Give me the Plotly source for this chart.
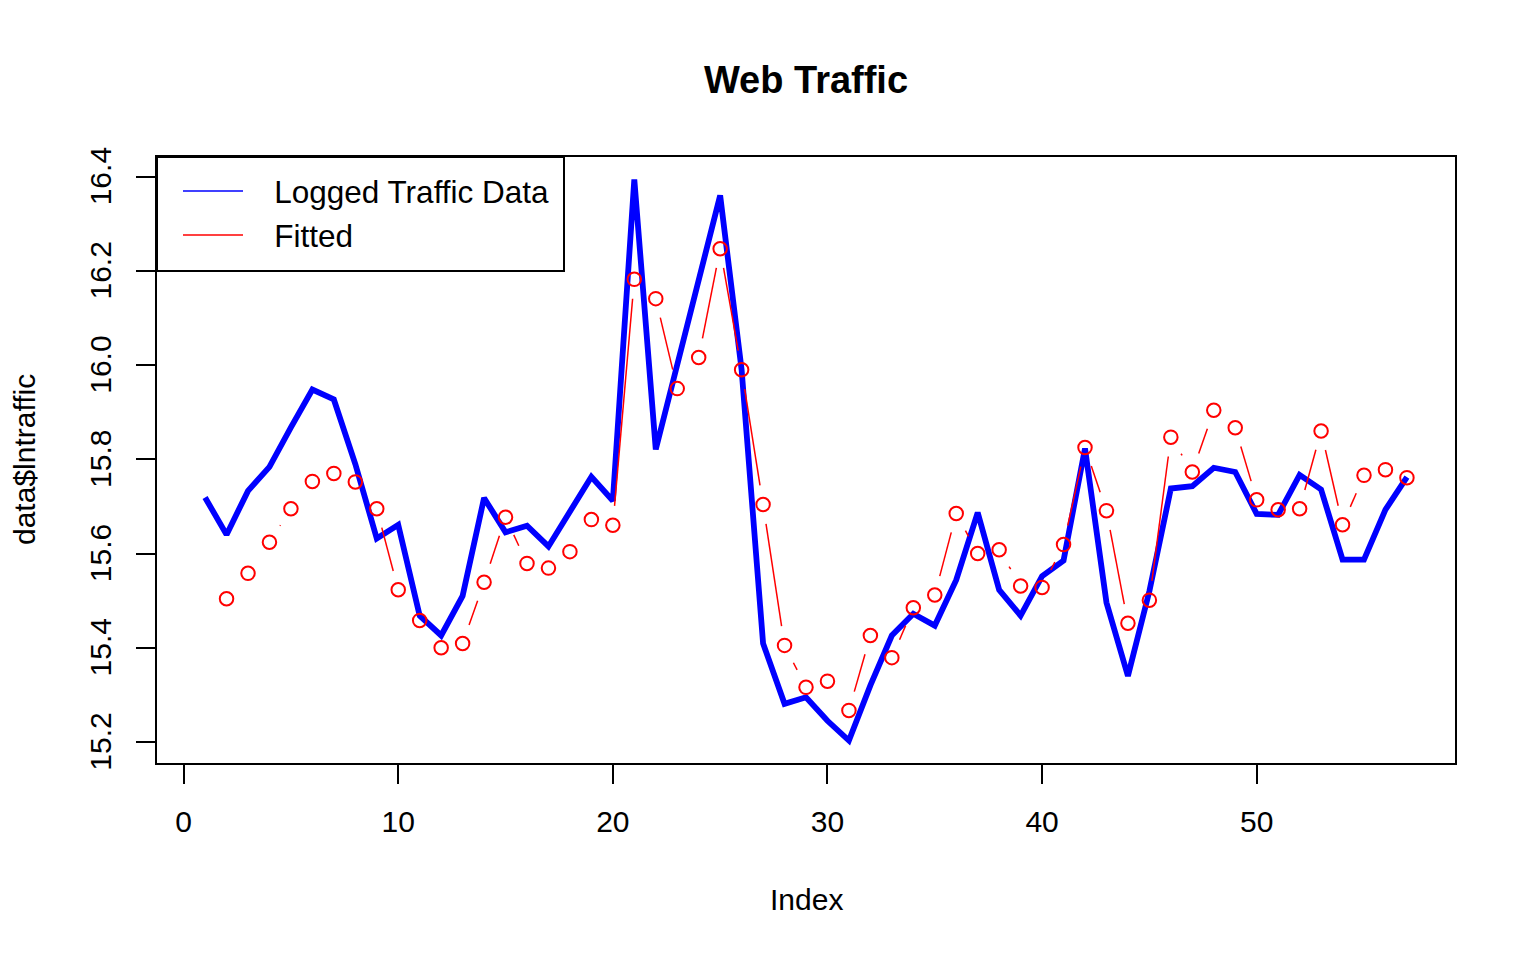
import plotly.graph_objects as go

# logged web traffic, observation index 1..57
index = list(range(1, 58))
lntraffic = [
    15.719, 15.640, 15.733, 15.784, 15.868, 15.948, 15.927, 15.790, 15.632, 15.661,
    15.468, 15.426, 15.510, 15.718, 15.645, 15.659, 15.615, 15.689, 15.763, 15.712,
    16.394, 15.821, 16.000, 16.180, 16.360, 15.990, 15.409, 15.281, 15.295, 15.245,
    15.203, 15.320, 15.426, 15.472, 15.447, 15.544, 15.687, 15.523, 15.468, 15.552,
    15.585, 15.823, 15.496, 15.340, 15.520, 15.738, 15.743, 15.782, 15.773, 15.684,
    15.682, 15.767, 15.736, 15.587, 15.587, 15.693, 15.762,
]

# fitted values start at the second observation
fitted_index = list(range(2, 58))
fitted = [
    15.504, 15.558, 15.624, 15.695, 15.753, 15.770, 15.752, 15.695, 15.523,
    15.458, 15.400, 15.409, 15.539, 15.677, 15.579, 15.569, 15.604, 15.672, 15.660,
    16.182, 16.141, 15.950, 16.016, 16.247, 15.990, 15.704, 15.405, 15.316, 15.329,
    15.267, 15.426, 15.379, 15.485, 15.512, 15.685, 15.600, 15.608, 15.531, 15.528,
    15.619, 15.825, 15.691, 15.452, 15.501, 15.847, 15.773, 15.904, 15.867, 15.714,
    15.693, 15.695, 15.860, 15.661, 15.766, 15.778, 15.761,
]

x_ticks = [0, 10, 20, 30, 40, 50]
y_ticks = [15.2, 15.4, 15.6, 15.8, 16.0, 16.2, 16.4]

# the page body adds an 8px margin, so the figure is drawn 8px smaller
PAD = 8
W, H = 1536 - PAD, 960 - PAD
margin = dict(l=157 - PAD, r=81, t=157 - PAD, b=197)
plot_w = W - margin["l"] - margin["r"]
plot_h = H - margin["t"] - margin["b"]


def padded(lo, hi):
    # same 4% extension R uses for its axes
    d = (hi - lo) * 0.04
    return [lo - d, hi + d]


x_range = padded(min(index), max(index))
y_range = padded(min(lntraffic + fitted), max(lntraffic + fitted))


def gapped_segments(xs, ys, gap=19.5):
    # like type="b": lines between points, cut back so they don't touch the circles
    sx = plot_w / (x_range[1] - x_range[0])
    sy = plot_h / (y_range[1] - y_range[0])
    seg_x, seg_y = [], []
    for x0, y0, x1, y1 in zip(xs, ys, xs[1:], ys[1:]):
        d = (((x1 - x0) * sx) ** 2 + ((y1 - y0) * sy) ** 2) ** 0.5
        if d <= 2 * gap:
            continue
        f = gap / d
        seg_x += [x0 + (x1 - x0) * f, x1 - (x1 - x0) * f, None]
        seg_y += [y0 + (y1 - y0) * f, y1 - (y1 - y0) * f, None]
    return seg_x, seg_y


seg_x, seg_y = gapped_segments(fitted_index, fitted)

fig = go.Figure()
fig.add_trace(go.Scatter(x=index, y=lntraffic, mode="lines",
                         line=dict(color="#0000FF", width=5.8), showlegend=False))
fig.add_trace(go.Scatter(x=seg_x, y=seg_y, mode="lines",
                         line=dict(color="#FF0000", width=1.5), showlegend=False))
fig.add_trace(go.Scatter(x=fitted_index, y=fitted, mode="markers",
                         marker=dict(symbol="circle-open", size=13.5, color="#FF0000",
                                     line=dict(width=2, color="#FF0000")),
                         showlegend=False))
# legend entries (thin lines as in the original legend)
nb = "\u00a0" * 3
fig.add_trace(go.Scatter(x=[None], y=[None], mode="lines", name=nb + "Logged Traffic Data",
                         line=dict(color="#0000FF", width=1.5)))
fig.add_trace(go.Scatter(x=[None], y=[None], mode="lines", name=nb + "Fitted",
                         line=dict(color="#FF0000", width=1.5)))

axis_style = dict(showgrid=False, zeroline=False, showline=True, mirror=True,
                  linecolor="black", linewidth=2, ticks="outside", ticklen=19,
                  tickwidth=2, tickcolor="black",
                  tickfont=dict(size=30, color="black"))

fig.update_xaxes(range=x_range, tickvals=x_ticks, ticklabelstandoff=12, **axis_style)
fig.update_yaxes(range=y_range, tickvals=y_ticks, tickformat=".1f", tickangle=-90,
                 ticklabelstandoff=13, ticklabelshift=4, **axis_style)

# legend frame (R draws it as a plain box in the top-left corner)
legend_w, legend_h = 564 - 157, 271 - 157

fig.update_layout(
    width=W, height=H, margin=margin,
    paper_bgcolor="white", plot_bgcolor="white",
    font=dict(family="Liberation Sans, Arial, sans-serif", size=30, color="black"),
    title=dict(text="Web Traffic", x=0.5, xref="paper", y=1 - (80 - PAD) / H,
               yref="container", yanchor="middle", xanchor="center",
               font=dict(size=38, weight="bold", color="black")),
    legend=dict(x=(178 - 157) / plot_w, y=1 - 7 / plot_h, xanchor="left", yanchor="top",
                bgcolor="rgba(0,0,0,0)", borderwidth=0, font=dict(size=31.5),
                itemwidth=60, tracegroupgap=0),
    shapes=[
        dict(type="rect", xref="paper", yref="paper", x0=0, x1=legend_w / plot_w,
             y0=1 - legend_h / plot_h, y1=1, line=dict(color="black", width=2),
             fillcolor="white", layer="below"),
    ],
    annotations=[
        dict(text="Index", x=0.5, xref="paper", y=-(900 - 763) / plot_h, yref="paper",
             xanchor="center", yanchor="middle", showarrow=False, font=dict(size=30)),
        dict(text="data$lntraffic", x=(24 - 157) / plot_w, xref="paper", y=0.5,
             yref="paper", xanchor="center", yanchor="middle", textangle=-90,
             showarrow=False, font=dict(size=30)),
    ],
)

fig.write_html("out.html")
